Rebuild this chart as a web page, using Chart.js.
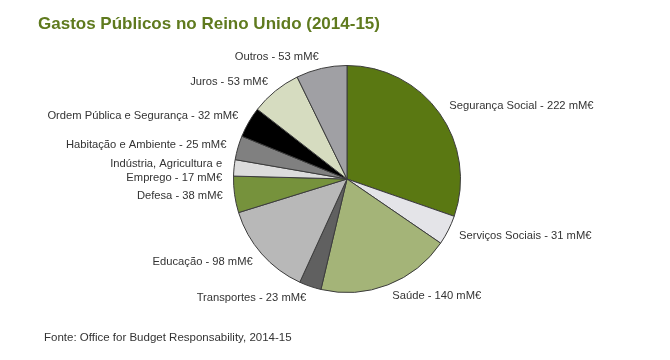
<!DOCTYPE html>
<html>
<head>
<meta charset="utf-8">
<script src="https://cdn.jsdelivr.net/npm/chart.js@4/dist/chart.umd.min.js"></script>
<style>
html,body{margin:0;padding:0;background:#fff;}
#wrap{width:670px;height:360px;position:relative;}
</style>
</head>
<body>
<div id="wrap"><canvas id="c" width="670" height="360"></canvas></div>
<script>
const TITLE = "Gastos Públicos no Reino Unido (2014-15)";
const SOURCE = "Fonte: Office for Budget Responsability, 2014-15";
const categories = [
  ["Segurança Social - 222 mM€"],
  ["Serviços Sociais - 31 mM€"],
  ["Saúde - 140 mM€"],
  ["Transportes - 23 mM€"],
  ["Educação - 98 mM€"],
  ["Defesa - 38 mM€"],
  ["Indústria, Agricultura e", "Emprego - 17 mM€"],
  ["Habitação e Ambiente - 25 mM€"],
  ["Ordem Pública e Segurança - 32 mM€"],
  ["Juros - 53 mM€"],
  ["Outros - 53 mM€"]
];
const values = [222, 31, 140, 23, 98, 38, 17, 25, 32, 53, 53];
const colors = ["#5a7812", "#e4e4e8", "#a4b478", "#606060", "#b8b8b8", "#76923c",
                "#dcdcdc", "#808080", "#000000", "#d6dcc0", "#a0a0a4"];

const labelPlugin = {
  id: 'outLabels',
  afterDatasetsDraw(chart) {
    const ctx = chart.ctx;
    const meta = chart.getDatasetMeta(0);
    ctx.save();
    ctx.font = '11.2px "Liberation Sans", Arial, sans-serif';
    ctx.fillStyle = '#333333';
    ctx.textBaseline = 'middle';
    meta.data.forEach((arc, i) => {
      const p = arc.getProps(['x', 'y', 'startAngle', 'endAngle', 'outerRadius'], true);
      const mid = (p.startAngle + p.endAngle) / 2;
      const r = p.outerRadius + 12;
      const ax = p.x + Math.cos(mid) * r;
      const ay = p.y + Math.sin(mid) * r;
      const right = Math.cos(mid) >= 0;
      ctx.textAlign = right ? 'left' : 'right';
      const lines = categories[i];
      const lh = 14;
      const y0 = ay - (lines.length - 1) * lh / 2 + (lines.length > 1 ? 4 : 0);
      lines.forEach((t, k) => ctx.fillText(t, ax, y0 + k * lh));
    });
    ctx.restore();
  },
  afterDraw(chart) {
    const ctx = chart.ctx;
    ctx.save();
    ctx.textBaseline = 'middle';
    ctx.textAlign = 'left';
    ctx.fillStyle = '#5f7a1e';
    ctx.font = 'bold 17px "Liberation Sans", Arial, sans-serif';
    ctx.fillText(TITLE, 38, 24);
    ctx.fillStyle = '#333333';
    ctx.font = '11.5px "Liberation Sans", Arial, sans-serif';
    ctx.fillText(SOURCE, 44, 338);
    ctx.restore();
  }
};

new Chart(document.getElementById('c'), {
  type: 'pie',
  data: {
    labels: categories.map(l => l.join(' ')),
    datasets: [{
      data: values,
      backgroundColor: colors,
      borderColor: '#3c3c3c',
      borderWidth: 1
    }]
  },
  options: {
    responsive: false,
    animation: false,
    layout: { padding: { top: 65, bottom: 67, left: 120, right: 96 } },
    plugins: {
      legend: { display: false },
      tooltip: { enabled: false },
      title: { display: false }
    }
  },
  plugins: [labelPlugin]
});
</script>
</body>
</html>
